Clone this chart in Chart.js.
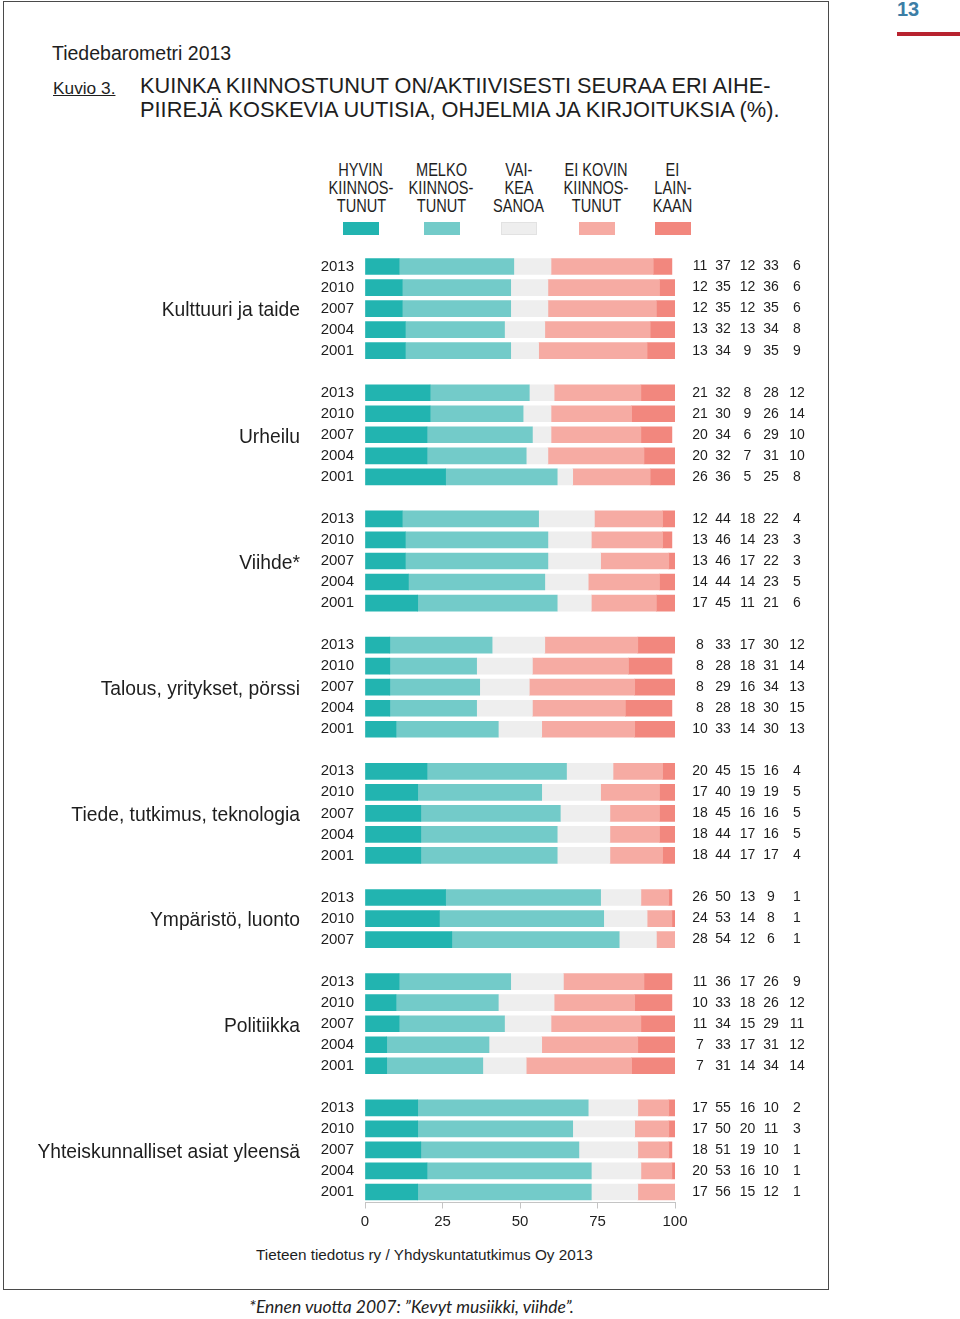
<!DOCTYPE html>
<html>
<head>
<meta charset="utf-8">
<script src="https://cdn.jsdelivr.net/npm/chart.js@4/dist/chart.umd.min.js"></script>
<style>
  html,body{margin:0;padding:0;background:#fff;}
  body{width:960px;height:1319px;position:relative;overflow:hidden;font-family:"Liberation Sans",Arial,Helvetica,sans-serif;color:#1e1e1e;}
  .abs{position:absolute;white-space:nowrap;}
  #frame{left:3px;top:1px;width:824px;height:1287px;border:1px solid #4a4a4a;box-sizing:content-box;}
  #pagenum{left:897px;top:-2px;font-size:20px;font-weight:bold;color:#3c7ea6;}
  #redline{left:897px;top:32px;width:63px;height:4px;background:#b8232f;}
  #t1{left:52px;top:41px;font-size:19.5px;line-height:24px;}
  #kuvio{left:53px;top:78px;font-size:17.3px;line-height:20px;text-decoration:underline;}
  #t2{left:140px;top:74px;font-size:21.75px;line-height:24px;}
  #t3{left:140px;top:98px;font-size:21.8px;line-height:24px;}
  #src{left:256px;top:1246px;font-size:15.3px;line-height:18px;}
  #foot{left:249px;top:1296px;font-family:Lato,"Open Sans",sans-serif;font-style:italic;font-size:17.5px;line-height:22px;color:#222;}
  .lg{position:absolute;top:161px;width:100px;text-align:center;font-size:18px;line-height:18px;}
  .lg span{display:inline-block;transform:scaleX(0.81);}
  .sw{position:absolute;top:222px;width:36px;height:13px;}
  #cv{position:absolute;left:0;top:236px;}
</style>
</head>
<body>
<div id="frame" class="abs"></div>
<div id="pagenum" class="abs">13</div>
<div id="redline" class="abs"></div>
<div id="t1" class="abs">Tiedebarometri 2013</div>
<div id="kuvio" class="abs">Kuvio 3.</div>
<div id="t2" class="abs">KUINKA KIINNOSTUNUT ON/AKTIIVISESTI SEURAA ERI AIHE-</div>
<div id="t3" class="abs">PIIREJÄ KOSKEVIA UUTISIA, OHJELMIA JA KIRJOITUKSIA (%).</div>
<div id="legend"></div>
<canvas id="cv" width="960" height="1000"></canvas>
<div id="src" class="abs">Tieteen tiedotus ry / Yhdyskuntatutkimus Oy 2013</div>
<div id="foot" class="abs">*Ennen vuotta 2007: ”Kevyt musiikki, viihde”.</div>
<script>
// ---------- DATA ----------
const groups = ["Kulttuuri ja taide", "Urheilu", "Viihde*", "Talous, yritykset, pörssi",
  "Tiede, tutkimus, teknologia", "Ympäristö, luonto", "Politiikka", "Yhteiskunnalliset asiat yleensä"];
const years5 = ["2013", "2010", "2007", "2004", "2001"];
const years3 = ["2013", "2010", "2007"];
const groupYears = [years5, years5, years5, years5, years5, years3, years5, years5];

const seriesLabels = [
  ["HYVIN", "KIINNOS-", "TUNUT"],
  ["MELKO", "KIINNOS-", "TUNUT"],
  ["VAI-", "KEA", "SANOA"],
  ["EI KOVIN", "KIINNOS-", "TUNUT"],
  ["EI", "LAIN-", "KAAN"]
];
const seriesColors = ["#22b4b0", "#73cbc9", "#eeeeee", "#f6aba3", "#f2877e"];

// values in row order (group by group, years top to bottom)
const hyvin = [11,12,12,13,13, 21,21,20,20,26, 12,13,13,14,17, 8,8,8,8,10, 20,17,18,18,18, 26,24,28, 11,10,11,7,7, 17,17,18,20,17];
const melko = [37,35,35,32,34, 32,30,34,32,36, 44,46,46,44,45, 33,28,29,28,33, 45,40,45,44,44, 50,53,54, 36,33,34,33,31, 55,50,51,53,56];
const vaikea = [12,12,12,13,9, 8,9,6,7,5, 18,14,17,14,11, 17,18,16,18,14, 15,19,16,17,17, 13,14,12, 17,18,15,17,14, 16,20,19,16,15];
const eiKovin = [33,36,35,34,35, 28,26,29,31,25, 22,23,22,23,21, 30,31,34,30,30, 16,19,16,16,17, 9,8,6, 26,26,29,31,34, 10,11,10,10,12];
const eiLainkaan = [6,6,6,8,9, 12,14,10,10,8, 4,3,3,5,6, 12,14,13,15,13, 4,5,5,5,4, 1,1,1, 9,12,11,12,14, 2,3,1,1,1];
const xTicks = [0, 25, 50, 75, 100];

const seriesValues = [hyvin, melko, vaikea, eiKovin, eiLainkaan];

// ---------- BUILD ROWS ----------
const labels = [];
const rowData = seriesValues.map(() => []);
const groupMid = [];
let k = 0;
groups.forEach((g, gi) => {
  if (gi > 0) { labels.push(''); rowData.forEach(a => a.push(null)); }
  const yrs = groupYears[gi];
  groupMid.push(labels.length + (yrs.length - 1) / 2);
  yrs.forEach(yr => {
    labels.push(yr);
    seriesValues.forEach((vals, si) => rowData[si].push(vals[k]));
    k++;
  });
});

// ---------- LEGEND (HTML) ----------
const legendCenters = [361, 441.5, 519, 596.5, 673];
const lg = document.getElementById('legend');
seriesLabels.forEach((lines, i) => {
  const t = document.createElement('div');
  t.className = 'lg';
  t.style.left = (legendCenters[i] - 50) + 'px';
  t.innerHTML = lines.map(l => '<span>' + l + '</span>').join('<br>');
  lg.appendChild(t);
  const s = document.createElement('div');
  s.className = 'sw';
  s.style.left = (legendCenters[i] - 18) + 'px';
  s.style.background = seriesColors[i];
  if (i === 2) s.style.boxShadow = 'inset 0 0 0 1px #e2e2e2';
  lg.appendChild(s);
});

// ---------- CHART ----------
const FONT = '"Liberation Sans", Arial, Helvetica, sans-serif';
Chart.defaults.font.family = FONT;
Chart.defaults.color = '#1e1e1e';

const valueCols = [700, 723, 747.5, 771, 797];
const annot = {
  id: 'annot',
  afterDraw(chart) {
    const ctx = chart.ctx, y = chart.scales.y;
    ctx.save();
    ctx.fillStyle = '#1e1e1e';
    ctx.textBaseline = 'middle';
    ctx.textAlign = 'right';
    ctx.font = '19.3px ' + FONT;
    groupMid.forEach((idx, gi) => ctx.fillText(groups[gi], 300, y.getPixelForValue(idx) + 2.5));
    ctx.textAlign = 'center';
    ctx.font = '14px ' + FONT;
    chart.data.datasets.forEach((ds, si) => {
      ds.data.forEach((v, i) => {
        if (v === null || v === undefined) return;
        ctx.fillText(String(v), valueCols[si], y.getPixelForValue(i));
      });
    });
    ctx.restore();
  }
};

new Chart(document.getElementById('cv'), {
  type: 'bar',
  data: {
    labels: labels,
    datasets: seriesValues.map((_, si) => ({
      label: seriesLabels[si].join(' '),
      data: rowData[si],
      backgroundColor: seriesColors[si],
      borderWidth: 0,
      barThickness: 16
    }))
  },
  options: {
    indexAxis: 'y',
    responsive: false,
    animation: false,
    devicePixelRatio: 1,
    layout: { padding: { left: 0, right: 285, top: 10.5, bottom: 0 } },
    plugins: { legend: { display: false }, tooltip: { enabled: false } },
    scales: {
      x: {
        stacked: true,
        min: 0, max: 100,
        afterBuildTicks: s => { s.ticks = xTicks.map(v => ({ value: v })); },
        ticks: { font: { size: 15 }, color: '#1e1e1e', padding: 4 },
        grid: { drawOnChartArea: false, drawTicks: true, tickLength: 6, color: '#c4c4c4' },
        border: { display: true, color: '#c4c4c4' },
        afterFit: s => { s.height = 33.5; }
      },
      y: {
        stacked: true,
        ticks: { autoSkip: false, font: { size: 15 }, color: '#1e1e1e', padding: 11 },
        grid: { display: false, drawTicks: false },
        border: { display: false },
        afterFit: s => { s.width = 365; }
      }
    }
  },
  plugins: [annot]
});
</script>
</body>
</html>
